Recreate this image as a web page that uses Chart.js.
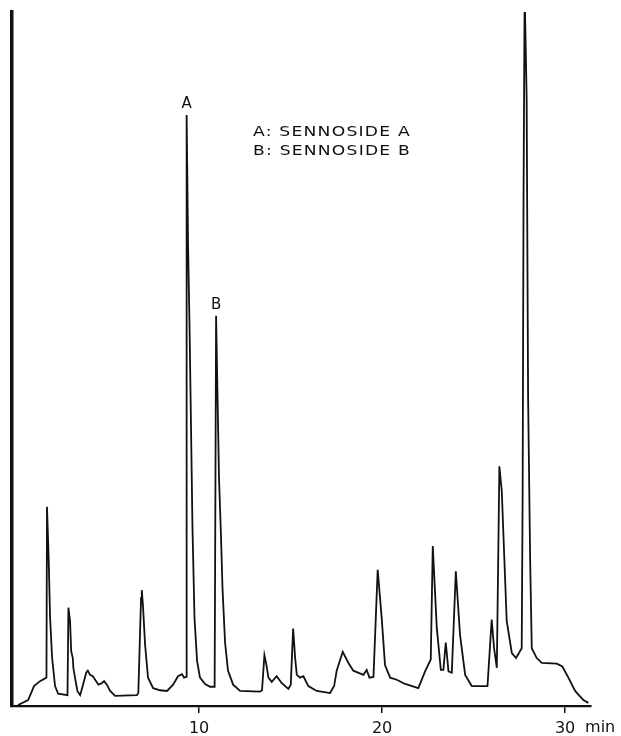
<!DOCTYPE html>
<html>
<head>
<meta charset="utf-8">
<script src="https://cdn.jsdelivr.net/npm/chart.js@4/dist/chart.umd.min.js"></script>
<style>
  html, body { margin: 0; padding: 0; background: #fff; }
</style>
</head>
<body>
<canvas id="chromatogram" width="621" height="736"></canvas>
<script>
// Retention time (min) and detector response.
const times = [
  0.11, 0.66, 0.82, 0.98, 1.31, 1.66, 1.69, 1.78, 1.86, 1.97, 2.13, 2.30,
  2.81, 2.86, 2.95, 3.01, 3.10, 3.13, 3.22, 3.35, 3.50, 3.66, 3.83, 3.92,
  4.04, 4.19, 4.32, 4.50, 4.68, 4.81, 4.96, 5.14, 5.41, 6.60, 6.68, 6.83,
  6.87, 6.94, 7.05, 7.21, 7.49, 7.87, 8.25, 8.58, 8.85, 9.07, 9.18, 9.29,
  9.32, 9.40, 9.48, 9.64, 9.75, 9.89, 10.05, 10.33, 10.60, 10.85, 10.93, 11.01,
  11.09, 11.20, 11.28, 11.42, 11.58, 11.86, 12.24, 13.33, 13.44, 13.57, 13.66, 13.79,
  13.97, 14.24, 14.52, 14.88, 15.01, 15.14, 15.25, 15.34, 15.52, 15.70, 15.97, 16.43,
  17.16, 17.38, 17.52, 17.85, 18.16, 18.43, 18.98, 19.16, 19.31, 19.53, 19.76, 19.98,
  20.16, 20.44, 20.80, 21.26, 21.98, 22.35, 22.66, 22.77, 22.99, 23.21, 23.35, 23.48,
  23.63, 23.81, 24.03, 24.26, 24.54, 24.90, 25.76, 25.99, 26.12, 26.27, 26.41, 26.54,
  26.81, 27.09, 27.32, 27.63, 27.68, 27.73, 27.79, 27.90, 27.98, 28.09, 28.18, 28.45,
  28.73, 29.55, 29.85, 30.18, 30.55, 31.00, 31.27
];
const signal = [
  0, 0.7, 1.7, 2.7, 3.4, 3.9, 28.3, 21.0, 12.4, 6.7, 2.7, 1.6,
  1.4, 13.9, 12.0, 7.7, 6.7, 5.3, 3.9, 2.0, 1.4, 2.9, 4.6, 4.9,
  4.3, 4.1, 3.6, 2.9, 3.1, 3.4, 2.9, 2.0, 1.3, 1.4, 1.7, 15.3,
  16.4, 13.9, 8.6, 3.9, 2.4, 2.1, 2.0, 2.9, 4.1, 4.4, 3.9, 4.0,
  84.3, 65.3, 53.9, 25.3, 12.4, 6.3, 3.9, 3.0, 2.6, 2.6, 55.6, 43.9,
  32.4, 23.9, 16.7, 8.9, 4.9, 2.9, 2.0, 1.9, 2.1, 7.1, 6.0, 3.9,
  3.3, 4.1, 3.1, 2.3, 2.9, 10.9, 6.7, 4.3, 3.9, 4.1, 2.7, 2.0,
  1.7, 2.7, 4.9, 7.6, 6.0, 4.9, 4.3, 5.0, 3.9, 4.0, 19.3, 12.4,
  5.7, 3.9, 3.6, 3.0, 2.4, 4.8, 6.5, 22.7, 11.0, 5.0, 5.0, 8.9,
  4.8, 4.6, 19.1, 10.0, 4.3, 2.7, 2.7, 12.2, 8.1, 5.3, 34.1, 30.6,
  12.0, 7.4, 6.7, 8.1, 29.6, 72.4, 102, 86.7, 43.9, 21.0, 8.1, 6.7,
  6.0, 5.9, 5.5, 3.9, 2.0, 0.7, 0.3
];
const tickMinutes = [10, 20, 30];
const peakLabels = ['A', 'B'];
const peakTimes = [9.32, 10.93];
const legendLines = ['A: SENNOSIDE A', 'B: SENNOSIDE B'];

const INK = '#111';
const FONT = '"DejaVu Sans", "Liberation Sans", sans-serif';

// Peak letters, the little legend and the "min" unit after the last tick.
const annotate = {
  id: 'annotate',
  afterDatasetsDraw(chart) {
    const { ctx, scales: { x, y } } = chart;
    ctx.save();
    ctx.fillStyle = INK;
    ctx.textBaseline = 'middle';

    ctx.textAlign = 'center';
    ctx.font = '15px ' + FONT;
    peakLabels.forEach((lbl, i) => {
      const top = signal[times.indexOf(peakTimes[i])];
      ctx.fillText(lbl, x.getPixelForValue(peakTimes[i]), y.getPixelForValue(top) - 11);
    });

    // the legend lettering is wide, so stretch it to the width it has in the figure
    ctx.textAlign = 'left';
    ctx.font = '14px ' + FONT;
    ctx.letterSpacing = '1px';
    legendLines.forEach((line, i) => {
      const w = ctx.measureText(line).width;
      ctx.save();
      ctx.translate(253, 132 + i * 19);
      ctx.scale(158 / w, 1);
      ctx.fillText(line, 0, 0);
      ctx.restore();
    });

    ctx.letterSpacing = '0px';
    ctx.font = '16px ' + FONT;
    ctx.fillText('min', x.getPixelForValue(30) + 20, 727.5);
    ctx.restore();
  }
};

new Chart(document.getElementById('chromatogram'), {
  type: 'line',
  data: {
    datasets: [{
      data: times.map((t, i) => ({ x: t, y: signal[i] })),
      borderColor: INK,
      borderWidth: 1.8,
      pointRadius: 0,
      tension: 0,
      fill: false
    }]
  },
  options: {
    responsive: false,
    devicePixelRatio: 1,
    animation: false,
    layout: { padding: { left: 11.5, right: 30.3, top: 12, bottom: 0 } },
    plugins: { legend: { display: false }, tooltip: { enabled: false } },
    scales: {
      x: {
        type: 'linear',
        min: -0.25,
        max: 31.4,
        afterBuildTicks: s => { s.ticks = tickMinutes.map(v => ({ value: v })); },
        afterFit: s => { s.height = 30; },
        ticks: { color: INK, font: { family: FONT, size: 16 }, padding: 6, maxRotation: 0, autoSkip: false },
        grid: { drawOnChartArea: false, tickLength: 7, color: INK, lineWidth: 1.5 },
        border: { color: INK, width: 2.2 }
      },
      y: {
        min: -0.15,
        max: 99,
        afterFit: s => { s.width = 0; },
        ticks: { display: false },
        grid: { display: false },
        border: { color: INK, width: 3.5 }
      }
    }
  },
  plugins: [annotate]
});
</script>
</body>
</html>
